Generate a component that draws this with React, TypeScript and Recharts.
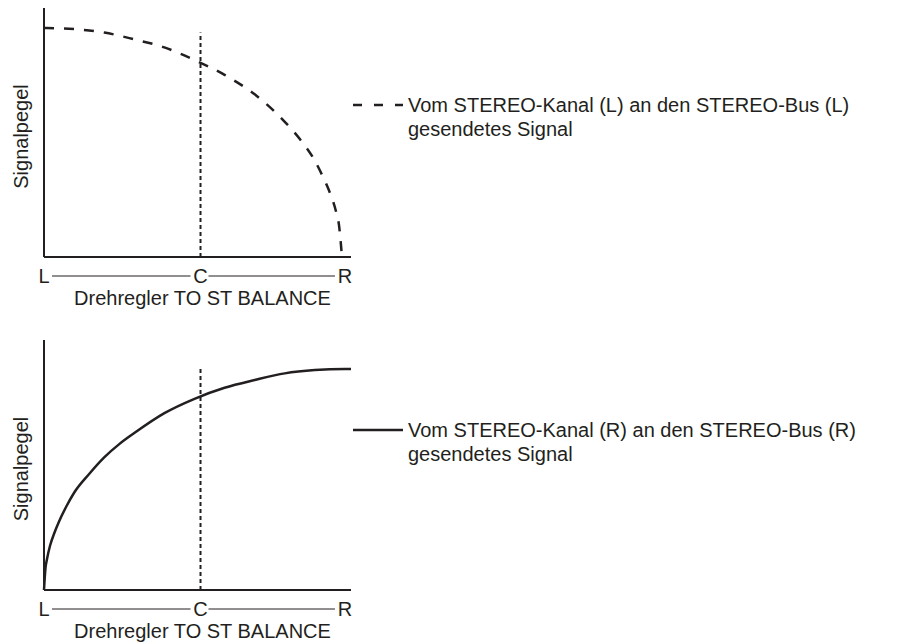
import { LineChart, Line, XAxis, YAxis, ReferenceLine, Legend } from "recharts";

// balance knob position: 0 = L, 52 = C, 100 = R
const balanceTicks = [0, 52, 100];
const balanceLabels = ["L", "C", "R"];

// STEREO channel (L) -> STEREO bus (L), dashed curve
const leftPos = [0, 10, 20, 30, 40, 50, 60, 70, 80, 85, 90, 92.5, 95, 97, 98, 99];
const leftLevel = [100, 99.5, 98, 95, 91.5, 86, 79.5, 71, 59, 51.5, 42, 35.5, 28, 20, 14, 0];

// STEREO channel (R) -> STEREO bus (R), solid curve
const rightPos = [0, 0.5, 1, 2, 3.5, 5, 7.5, 10, 15, 20, 25, 30, 40, 50, 60, 70, 80, 90, 100, 102];
const rightLevel = [0, 10, 14, 20, 26, 31, 38, 44, 52.5, 60, 66, 71, 80, 86.5, 91.5, 95, 98, 99.5, 100, 100];

const centerPos = 52;
const xTitle = "Drehregler TO ST BALANCE";
const yTitle = "Signalpegel";
const legendLeft = ["Vom STEREO-Kanal (L) an den STEREO-Bus (L)", "gesendetes Signal"];
const legendRight = ["Vom STEREO-Kanal (R) an den STEREO-Bus (R)", "gesendetes Signal"];

const leftData = leftPos.map((x, i) => ({ x, level: leftLevel[i] }));
const rightData = rightPos.map((x, i) => ({ x, level: rightLevel[i] }));

const FONT = '"Liberation Sans", Arial, Helvetica, sans-serif';
const INK = "#231f20";
const FS = 20;
const X_MAX = 102;
const PLOT_W = 307;

const BalanceTick = (props: any) => {
  const { x, y, payload, index } = props;
  const next = balanceTicks[index + 1];
  const nextX = next !== undefined ? x + ((next - payload.value) * PLOT_W) / X_MAX : null;
  return (
    <g>
      <text x={x} y={y + 19} dy="0.36em" textAnchor="middle" fontFamily={FONT} fontSize={FS} fill={INK}>
        {balanceLabels[index]}
      </text>
      {nextX !== null && (
        <line x1={x + 8} x2={nextX - 10} y1={y + 19} y2={y + 19} stroke={INK} strokeWidth={1} />
      )}
    </g>
  );
};

const XTitle = (props: any) => {
  const vb = props.viewBox;
  return (
    <text x={vb.x + vb.width / 2 + 5} y={vb.y + 48} textAnchor="middle" fontFamily={FONT} fontSize={FS} fill={INK}>
      {xTitle}
    </text>
  );
};

const YTitle = (props: any) => {
  const vb = props.viewBox;
  const cx = vb.x + 21;
  const cy = vb.y + vb.height / 2 + 4;
  return (
    <text
      x={cx}
      y={cy}
      transform={`rotate(-90 ${cx} ${cy})`}
      textAnchor="middle"
      dominantBaseline="central"
      fontFamily={FONT}
      fontSize={FS}
      fill={INK}
    >
      {yTitle}
    </text>
  );
};

const LegendBox = ({ lines, dashed }: { lines: string[]; dashed: boolean }) => (
  <div style={{ position: "relative", fontFamily: FONT, fontSize: FS, lineHeight: "24px", color: INK }}>
    <svg width={54} height={24} style={{ position: "absolute", left: 0, top: 0 }}>
      <line
        x1={2}
        x2={52}
        y1={12}
        y2={12}
        stroke={INK}
        strokeWidth={2.5}
        strokeDasharray={dashed ? "9 12" : undefined}
      />
    </svg>
    <div style={{ marginLeft: 57, whiteSpace: "nowrap" }}>
      {lines[0]}
      <br />
      {lines[1]}
    </div>
  </div>
);

const Panel = ({
  data,
  dashed,
  yMax,
  marginTop,
  marginBottom,
  refTop,
  legend,
  legendTop,
}: {
  data: { x: number; level: number }[];
  dashed: boolean;
  yMax: number;
  marginTop: number;
  marginBottom: number;
  refTop: number;
  legend: string[];
  legendTop: number;
}) => (
  <LineChart
    width={903}
    height={321}
    data={data}
    margin={{ top: marginTop, right: 552, bottom: marginBottom, left: 0 }}
  >
    <XAxis
      dataKey="x"
      type="number"
      domain={[0, X_MAX]}
      ticks={balanceTicks}
      tick={<BalanceTick />}
      tickLine={false}
      tickSize={0}
      tickMargin={0}
      height={50}
      axisLine={{ stroke: INK, strokeWidth: 2 }}
      label={XTitle}
    />
    <YAxis
      type="number"
      domain={[0, yMax]}
      width={44}
      tick={false}
      tickLine={false}
      axisLine={{ stroke: INK, strokeWidth: 2 }}
      label={YTitle}
    />
    <ReferenceLine
      segment={[
        { x: centerPos, y: 0 },
        { x: centerPos, y: refTop },
      ]}
      stroke={INK}
      strokeWidth={2}
      strokeDasharray="4 3"
    />
    <Line
      type="monotone"
      dataKey="level"
      stroke={INK}
      strokeWidth={2.5}
      strokeDasharray={dashed ? "10 10" : undefined}
      dot={false}
      activeDot={false}
      isAnimationActive={false}
    />
    <Legend
      layout="horizontal"
      verticalAlign="middle"
      align="center"
      content={() => <LegendBox lines={legend} dashed={dashed} />}
      wrapperStyle={{ left: 351, top: legendTop, width: "auto" }}
    />
  </LineChart>
);

export default function App() {
  return (
    <div style={{ position: "absolute", left: 0, top: 0, width: 903, height: 642, background: "#fff" }}>
      <Panel
        data={leftData}
        dashed={true}
        yMax={108.7}
        marginTop={8}
        marginBottom={14}
        refTop={98}
        legend={legendLeft}
        legendTop={93}
      />
      <Panel
        data={rightData}
        dashed={false}
        yMax={113.1}
        marginTop={19}
        marginBottom={2}
        refTop={101}
        legend={legendRight}
        legendTop={97}
      />
    </div>
  );
}
